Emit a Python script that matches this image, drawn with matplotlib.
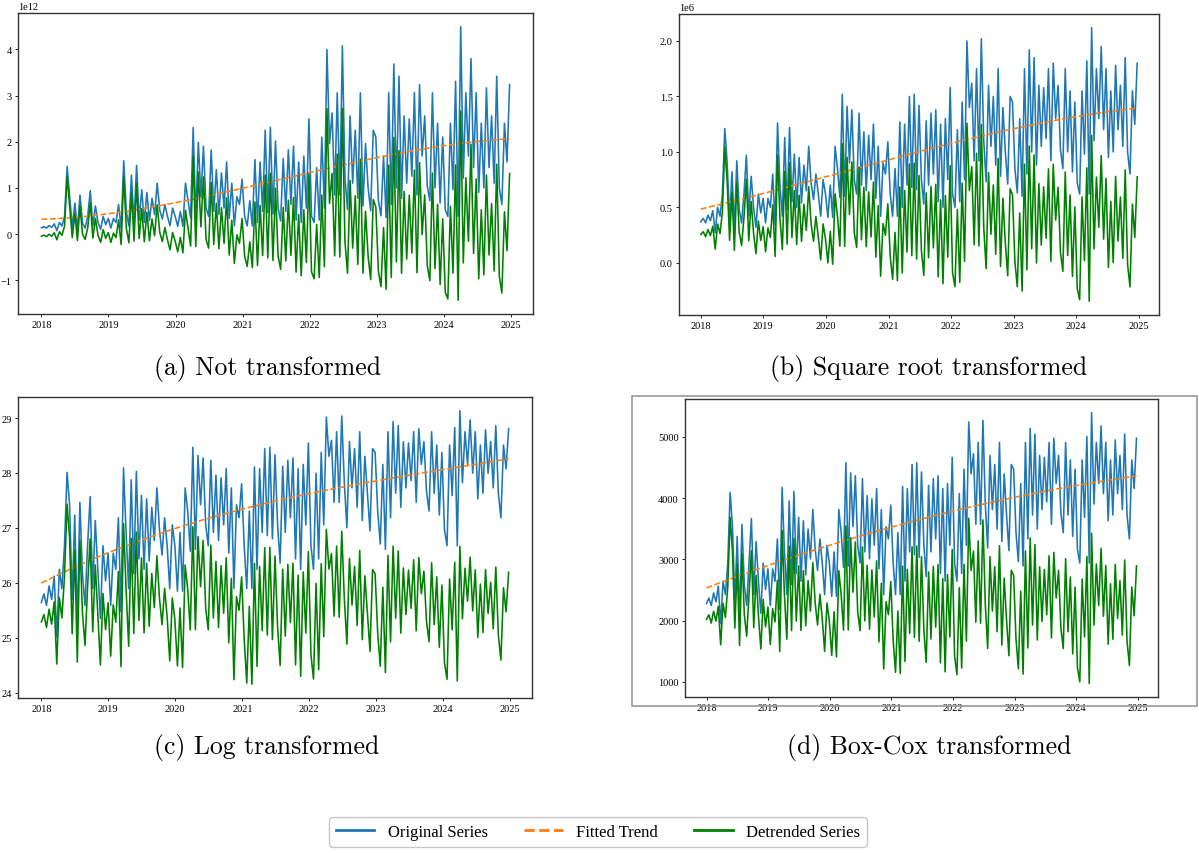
import numpy as np
import pandas as pd
import matplotlib.pyplot as plt
from matplotlib.patches import Rectangle

# square-root scale values (x 1e6), one reading every two weeks
sqrt_2018 = [0.37, 0.40, 0.36, 0.43, 0.38, 0.47, 0.27, 0.50, 0.42, 0.62, 1.21, 0.90, 0.38,
             0.82, 0.30, 0.92, 0.48, 0.36, 0.62, 0.97, 0.42, 0.78, 0.50, 0.32, 0.62, 0.45]
sqrt_2019 = [0.58, 0.36, 0.58, 0.50, 0.80, 0.34, 1.26, 0.70, 0.42, 1.13, 0.48, 1.22, 0.55,
             0.98, 0.50, 0.95, 0.54, 0.88, 0.65, 1.05, 0.72, 0.57, 0.80, 0.62, 0.42, 0.75]
sqrt_2020 = [0.62, 0.41, 0.70, 0.41, 1.05, 0.85, 0.59, 1.52, 0.60, 1.41, 0.90, 1.38, 0.75,
             0.62, 1.35, 0.70, 1.18, 0.65, 1.15, 0.75, 1.25, 0.58, 1.05, 0.42, 0.90, 0.80]
sqrt_2021 = [1.09, 0.62, 0.42, 0.85, 0.42, 1.27, 0.50, 1.25, 0.70, 1.50, 0.68, 1.52, 0.66,
             1.42, 0.75, 0.53, 1.28, 0.70, 1.35, 0.80, 1.38, 0.55, 1.25, 0.50, 1.30, 0.75]
sqrt_2022 = [1.58, 0.62, 0.50, 1.20, 0.55, 1.45, 0.75, 2.00, 1.40, 1.62, 0.92, 1.75, 0.92,
             2.02, 1.10, 0.73, 1.60, 1.05, 1.50, 0.88, 1.75, 0.78, 1.40, 1.00, 0.71, 1.50]
sqrt_2023 = [1.45, 0.85, 0.63, 1.30, 0.60, 1.75, 0.80, 1.92, 1.00, 1.85, 0.88, 1.60, 1.05,
             1.58, 1.12, 1.75, 0.92, 1.80, 1.30, 1.60, 1.02, 0.85, 1.75, 1.00, 1.55, 0.82]
sqrt_2024 = [1.45, 0.72, 0.62, 1.55, 0.98, 1.82, 0.62, 2.12, 1.10, 1.75, 1.30, 1.95, 1.20,
             1.75, 0.95, 1.55, 1.00, 1.78, 1.20, 1.60, 1.05, 1.85, 1.00, 0.80, 1.55, 1.25, 1.80]

boxcox_lambda = 0.247
trend_degree = 3

captions = ['(a) Not transformed', '(b) Square root transformed',
            '(c) Log transformed', '(d) Box-Cox transformed']

sqrt_vals = np.array(sqrt_2018 + sqrt_2019 + sqrt_2020 + sqrt_2021 +
                     sqrt_2022 + sqrt_2023 + sqrt_2024) * 1e6
dates = pd.date_range('2018-01-01', periods=len(sqrt_vals), freq='14D')
t = (dates - dates[0]).days.values / 365.25

raw = sqrt_vals ** 2
series = [raw,
          np.sqrt(raw),
          np.log(raw),
          (raw ** boxcox_lambda - 1) / boxcox_lambda]

fig = plt.figure(figsize=(11.99, 8.54), dpi=100)

# axes boxes in pixels: left, top, right, bottom
boxes = [(18, 14, 533, 315), (679, 15, 1159, 316),
         (18, 398, 532, 699), (685, 400, 1158, 698)]
W, H = 1199, 854
caption_xy = [(267, 368), (929, 368), (267, 748), (929, 748)]

axes = []
for k, (y, box) in enumerate(zip(series, boxes)):
    l, tp, r, b = box
    ax = fig.add_axes([l / W, 1 - b / H, (r - l) / W, (b - tp) / H])
    coef = np.polyfit(t, y, trend_degree)
    trend = np.polyval(coef, t)
    detrended = y - trend + y[0]

    ax.plot(dates, y, color='#1f77b4', lw=1.15, label='Original Series')
    ax.plot(dates, trend, color='#ff7f0e', lw=1.15, ls='--', label='Fitted Trend')
    ax.plot(dates, detrended, color='green', lw=1.15, label='Detrended Series')

    for s in ax.spines.values():
        s.set_color('#333333')
        s.set_linewidth(1.0)
    ax.tick_params(labelsize=7.5, length=2.5, width=0.6, pad=2)
    for lab in ax.get_xticklabels() + ax.get_yticklabels():
        lab.set_family('Liberation Serif')
    ax.yaxis.get_offset_text().set_fontsize(7.5)
    ax.yaxis.get_offset_text().set_family('Liberation Serif')
    axes.append(ax)

    cx, cy = caption_xy[k]
    fig.text(cx / W, 1 - cy / H, captions[k], ha='center', va='center',
             fontsize=18.5, family='cmr10')

# outer frame around the fourth panel
fig.patches.append(Rectangle((632 / W, 1 - 707 / H), 565 / W, 310 / H,
                             transform=fig.transFigure, fill=False,
                             edgecolor='#999999', lw=1.2))

handles, labels = axes[0].get_legend_handles_labels()
leg = fig.legend(handles, labels, loc='center', ncol=3,
                 bbox_to_anchor=(598 / W, 1 - 833 / H),
                 prop={'family': 'Liberation Serif', 'size': 12},
                 handlelength=2.3, handletextpad=0.8, columnspacing=2.2,
                 frameon=True, edgecolor='#bbbbbb')
for line in leg.get_lines():
    line.set_linewidth(2.0)

fig.savefig('out.png', dpi=100)
